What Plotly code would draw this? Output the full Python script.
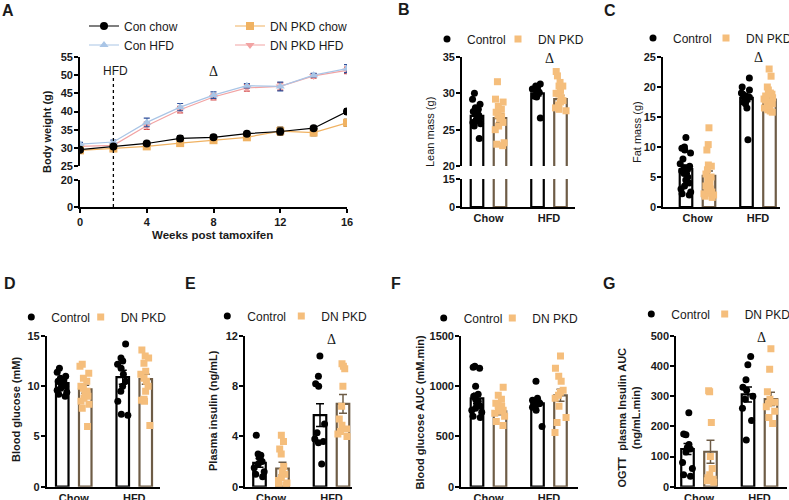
import plotly.graph_objects as go

W, H = 789, 500


def fx(px):
    return px / W


def fy(py):
    return 1 - py / H


# ---------------- data ----------------
# Panel A: body weight over time
weeks = [0, 2, 4, 6, 8, 10, 12, 14, 16]
hfd_start_week = 2
con_chow = [29.5, 30.4, 31.2, 32.6, 32.9, 33.9, 34.5, 35.4, 40.0]
con_chow_sem = [0.4, 0.4, 0.5, 0.8, 0.6, 0.6, 0.9, 0.5, 0.8]
dn_chow = [29.3, 29.8, 30.4, 31.3, 32.1, 32.9, 34.6, 34.2, 36.9]
dn_chow_sem = [0.5, 0.5, 0.6, 0.9, 0.6, 0.8, 1.2, 0.9, 1.0]
con_hfd = [31.0, 31.6, 37.0, 41.2, 44.5, 47.1, 46.9, 50.0, 51.8]
con_hfd_sem = [0.5, 0.5, 1.2, 1.0, 0.9, 0.6, 1.2, 0.5, 1.1]
dn_hfd = [30.4, 30.7, 36.1, 40.5, 44.0, 46.5, 46.9, 49.8, 51.3]
dn_hfd_sem = [0.4, 0.5, 1.0, 0.9, 0.8, 0.9, 1.0, 0.6, 0.9]

groups = ["Chow", "HFD"]

# Panel B: lean mass (g)
lean_mean_ctrl = [26.9, 30.0]
lean_sem_ctrl = [0.4, 0.35]
lean_mean_dn = [26.6, 29.2]
lean_sem_dn = [0.6, 0.5]
lean_ctrl_chow = [30.0, 29.2, 28.5, 28.0, 27.8, 27.5, 27.2, 27.0, 26.8, 26.5, 26.2, 26.0, 25.8, 25.5, 23.8]
lean_dn_chow = [31.6, 29.2, 28.8, 28.2, 27.8, 27.4, 27.0, 26.8, 26.5, 26.0, 25.5, 25.0, 23.2, 22.8, 23.0]
lean_ctrl_hfd = [31.3, 31.0, 30.8, 30.6, 30.5, 30.3, 30.1, 30.0, 29.8, 29.6, 29.5, 26.6]
lean_dn_hfd = [33.0, 32.4, 31.5, 31.0, 30.4, 29.9, 29.4, 28.8, 28.4, 27.8, 27.6, 28.0, 29.0, 30.0, 31.0]

# Panel C: fat mass (g)
fat_mean_ctrl = [6.3, 18.2]
fat_sem_ctrl = [0.7, 0.6]
fat_mean_dn = [5.2, 17.9]
fat_sem_dn = [0.8, 0.5]
fat_ctrl_chow = [11.6, 10.0, 9.8, 9.5, 9.0, 8.0, 7.2, 6.8, 6.5, 6.2, 6.0, 5.6, 5.0, 4.5, 4.0, 3.5, 3.0, 2.5, 2.2, 2.0]
fat_dn_chow = [13.2, 10.4, 9.5, 7.0, 6.8, 6.2, 5.5, 5.0, 4.5, 4.0, 3.5, 3.2, 3.0, 2.8, 2.5, 2.3, 2.2, 2.0, 1.8, 1.6]
fat_ctrl_hfd = [21.5, 20.0, 19.5, 19.0, 18.8, 18.5, 18.3, 18.0, 17.8, 17.5, 17.2, 16.5, 11.2]
fat_dn_hfd = [23.0, 21.8, 20.0, 19.5, 19.0, 18.8, 18.5, 18.2, 18.0, 17.8, 17.5, 17.2, 17.0, 16.8, 16.5, 16.2, 16.0, 15.8]

# Panel D: blood glucose (mM)
glu_mean_ctrl = [10.3, 10.9]
glu_sem_ctrl = [0.2, 0.7]
glu_mean_dn = [9.7, 10.7]
glu_sem_dn = [0.4, 0.5]
glu_ctrl_chow = [11.8, 11.4, 11.0, 10.8, 10.6, 10.5, 10.4, 10.3, 10.2, 10.0, 9.8, 9.6, 9.4, 9.2, 9.0]
glu_dn_chow = [12.2, 12.0, 11.3, 10.8, 10.5, 10.0, 9.8, 9.5, 9.2, 9.0, 8.8, 8.5, 8.2, 7.8, 6.0]
glu_ctrl_hfd = [14.2, 12.8, 12.5, 12.2, 11.8, 11.2, 10.5, 10.0, 9.5, 8.5, 7.2, 7.1]
glu_dn_hfd = [13.6, 13.0, 12.8, 12.3, 11.5, 11.2, 10.8, 10.5, 10.0, 9.5, 8.7, 8.6, 8.5, 6.1]

# Panel E: plasma insulin (ng/mL)
ins_mean_ctrl = [1.9, 5.7]
ins_sem_ctrl = [0.35, 0.9]
ins_mean_dn = [1.45, 6.6]
ins_sem_dn = [0.5, 0.75]
ins_ctrl_chow = [4.1, 2.6, 2.5, 2.3, 2.0, 1.8, 1.5, 1.2, 1.0, 0.8]
ins_dn_chow = [4.1, 3.6, 3.0, 2.6, 1.6, 1.2, 1.0, 0.7, 0.5, 0.3, 0.2, 0.1]
ins_ctrl_hfd = [10.4, 8.8, 8.2, 8.0, 5.0, 4.3, 3.8, 3.6, 3.5, 1.8]
ins_dn_hfd = [9.8, 9.6, 9.4, 8.0, 6.4, 5.4, 4.9, 4.6, 4.4, 4.2, 4.0]

# Panel F: blood glucose AUC (mM.min)
gauc_mean_ctrl = [880, 830]
gauc_sem_ctrl = [50, 30]
gauc_mean_dn = [750, 910]
gauc_sem_dn = [35, 60]
gauc_ctrl_chow = [1200, 1190, 1180, 1000, 920, 900, 870, 850, 820, 800, 780, 760, 740, 700, 690]
gauc_dn_chow = [990, 910, 870, 830, 810, 800, 780, 760, 750, 730, 700, 650, 610]
gauc_ctrl_hfd = [1050, 880, 860, 850, 840, 830, 820, 810, 790, 760, 600]
gauc_dn_hfd = [1300, 1180, 1100, 1050, 960, 940, 910, 880, 800, 690, 640, 540]

# Panel G: OGTT plasma insulin AUC (ng/mL.min)
iauc_mean_ctrl = [125, 306]
iauc_sem_ctrl = [18, 25]
iauc_mean_dn = [116, 291]
iauc_sem_dn = [38, 22]
iauc_ctrl_chow = [245, 175, 172, 140, 130, 125, 115, 80, 60, 40, 35]
iauc_dn_chow = [318, 315, 213, 100, 60, 40, 30, 25, 20, 15]
iauc_ctrl_hfd = [432, 405, 355, 330, 320, 300, 290, 260, 220, 155]
iauc_dn_hfd = [458, 390, 315, 290, 280, 275, 265, 250, 230, 210]

# ---------------- style ----------------
FONT = "Liberation Sans, Arial, sans-serif"
INK = "#1a1a1a"
BROWN = "#6E5C46"
ORANGE = "#F5BE7C"
SPACING = 60.5  # px between category centres

fig = go.Figure()
layout = dict(
    width=W, height=H, margin=dict(l=0, r=0, t=0, b=0, autoexpand=False),
    paper_bgcolor="white", plot_bgcolor="rgba(0,0,0,0)",
    font=dict(family=FONT, color=INK),
    barmode="group", bargap=0.24, bargroupgap=0.455,
    boxmode="group", boxgap=0.24, boxgroupgap=0.455,
    showlegend=True, hovermode=False,
)


def yax(top, bot, rng, tickvals, anchor):
    return dict(domain=[fy(bot), fy(top)], range=rng, tickvals=tickvals, anchor=anchor,
                showline=True, linecolor="black", linewidth=1.6, ticks="outside", ticklen=4,
                tickwidth=1.6, tickcolor="black", showgrid=False, zeroline=False,
                ticklabelstandoff=-1,
                tickfont=dict(size=11, weight="bold", color=INK), fixedrange=True)


def xcat(px0, px1, chow_px, anchor):
    return dict(domain=[fx(px0), fx(px1)],
                range=[(px0 - chow_px) / SPACING, (px1 - chow_px) / SPACING],
                type="category", categoryorder="array", categoryarray=groups, anchor=anchor,
                showline=True, linecolor="black", linewidth=1.6, ticks="", showgrid=False,
                zeroline=False, tickfont=dict(size=11, weight="bold", color=INK), fixedrange=True)


def leg(px_marker, py_y):
    # legend symbol sits 20 px right of the legend's left edge
    return dict(orientation="h", x=fx(px_marker - 22), y=fy(py_y), xanchor="left", yanchor="middle",
                font=dict(size=12, color=INK, family=FONT),
                bgcolor="rgba(0,0,0,0)", borderwidth=0, itemclick=False, itemdoubleclick=False)


# ---------------- panel A ----------------
layout["xaxis"] = dict(domain=[fx(80), fx(347)], range=[0, 16], tickvals=[0, 4, 8, 12, 16], anchor="y2",
                       showline=True, linecolor="black", linewidth=1.6, ticks="outside", ticklen=4,
                       tickwidth=1.6, tickcolor="black", showgrid=False, zeroline=False,
                       tickfont=dict(size=11, weight="bold", color=INK), fixedrange=True)
layout["yaxis"] = yax(57, 166, [25, 55], [25, 30, 35, 40, 45, 50, 55], "x")
layout["yaxis2"] = yax(180, 207, [0, 20], [0, 20], "x")


def a_trace(y, sem, name, color, ecolor, symbol, legend):
    return go.Scatter(x=weeks, y=y, name=name, mode="lines+markers",
                      line=dict(color=color, width=1.2),
                      marker=dict(color=color, symbol=symbol, size=8),
                      error_y=dict(type="data", array=sem, color=ecolor, thickness=1.2, width=3),
                      xaxis="x", yaxis="y", legend=legend)


# keeps the lower (0-20) segment of the broken axis alive
fig.add_trace(go.Scatter(x=weeks, y=con_chow, mode="lines", line=dict(color="rgba(0,0,0,0)"),
                         xaxis="x", yaxis="y2", showlegend=False))
fig.add_trace(a_trace(dn_hfd, dn_hfd_sem, "DN PKD HFD", "#F2A3A3", "#D24A4A", "triangle-down", "legend4"))
fig.add_trace(a_trace(con_hfd, con_hfd_sem, "Con HFD", "#A9C5E6", "#2F4F9A", "triangle-up", "legend2"))
fig.add_trace(a_trace(dn_chow, dn_chow_sem, "DN PKD chow", "#F0B262", "#9A7A50", "square", "legend3"))
fig.add_trace(a_trace(con_chow, con_chow_sem, "Con chow", "black", "black", "circle", "legend"))
layout["legend"] = leg(106, 26)
layout["legend2"] = leg(106, 45)
layout["legend3"] = leg(252, 26)
layout["legend4"] = leg(252, 45)

# ---------------- bar panels ----------------
panels = [
    dict(x="x2", ys=["y3", "y4"], leg=(449, 520, 39),
         mc=lean_mean_ctrl, sc=lean_sem_ctrl, md=lean_mean_dn, sd=lean_sem_dn,
         pc=(lean_ctrl_chow, lean_ctrl_hfd), pd=(lean_dn_chow, lean_dn_hfd)),
    dict(x="x3", ys=["y5"], leg=(655, 728, 38),
         mc=fat_mean_ctrl, sc=fat_sem_ctrl, md=fat_mean_dn, sd=fat_sem_dn,
         pc=(fat_ctrl_chow, fat_ctrl_hfd), pd=(fat_dn_chow, fat_dn_hfd)),
    dict(x="x4", ys=["y6"], leg=(33.3, 102.7, 317),
         mc=glu_mean_ctrl, sc=glu_sem_ctrl, md=glu_mean_dn, sd=glu_sem_dn,
         pc=(glu_ctrl_chow, glu_ctrl_hfd), pd=(glu_dn_chow, glu_dn_hfd)),
    dict(x="x5", ys=["y7"], leg=(229.3, 303.3, 316),
         mc=ins_mean_ctrl, sc=ins_sem_ctrl, md=ins_mean_dn, sd=ins_sem_dn,
         pc=(ins_ctrl_chow, ins_ctrl_hfd), pd=(ins_dn_chow, ins_dn_hfd)),
    dict(x="x6", ys=["y8"], leg=(445.7, 514.3, 318),
         mc=gauc_mean_ctrl, sc=gauc_sem_ctrl, md=gauc_mean_dn, sd=gauc_sem_dn,
         pc=(gauc_ctrl_chow, gauc_ctrl_hfd), pd=(gauc_dn_chow, gauc_dn_hfd)),
    dict(x="x7", ys=["y9"], leg=(653.3, 726.7, 314),
         mc=iauc_mean_ctrl, sc=iauc_sem_ctrl, md=iauc_mean_dn, sd=iauc_sem_dn,
         pc=(iauc_ctrl_chow, iauc_ctrl_hfd), pd=(iauc_dn_chow, iauc_dn_hfd)),
]

layout["xaxis2"] = xcat(462, 575, 488.5, "y4")
layout["yaxis3"] = yax(57, 166, [20, 35], [20, 25, 30, 35], "x2")
layout["yaxis4"] = yax(179, 207, [0, 15], [0, 15], "x2")
layout["xaxis3"] = xcat(663, 780, 697.5, "y5")
layout["yaxis5"] = yax(57, 207, [0, 25], [0, 5, 10, 15, 20, 25], "x3")
layout["xaxis4"] = xcat(46.7, 160, 73.75, "y6")
layout["yaxis6"] = yax(336, 486.7, [0, 15], [0, 5, 10, 15], "x4")
layout["xaxis5"] = xcat(245, 352, 271, "y7")
layout["yaxis7"] = yax(336, 486.7, [0, 12], [0, 4, 8, 12], "x5")
layout["xaxis6"] = xcat(461, 578, 488.5, "y8")
layout["yaxis8"] = yax(336, 486.7, [0, 1500], [0, 500, 1000, 1500], "x6")
layout["xaxis7"] = xcat(676, 787, 699, "y9")
layout["yaxis9"] = yax(336, 486.7, [0, 500], [0, 100, 200, 300, 400, 500], "x7")

leg_n = 5
for p in panels:
    upper = p["ys"][0]
    for ya in p["ys"]:
        show_err = ya == upper
        fig.add_trace(go.Bar(x=groups, y=p["mc"], xaxis=p["x"], yaxis=ya, showlegend=False,
                             marker=dict(color="white", line=dict(color="black", width=2.2)),
                             error_y=dict(type="data", array=p["sc"], color="black", thickness=1.5,
                                          width=4, visible=show_err)))
        fig.add_trace(go.Bar(x=groups, y=p["md"], xaxis=p["x"], yaxis=ya, showlegend=False,
                             marker=dict(color="white", line=dict(color=BROWN, width=2.2)),
                             error_y=dict(type="data", array=p["sd"], color=BROWN, thickness=1.5,
                                          width=4, visible=show_err)))
    for pts, sym, col, og in ((p["pc"], "circle", "black", "ctrl"), (p["pd"], "square", ORANGE, "dn")):
        xs = [groups[0]] * len(pts[0]) + [groups[1]] * len(pts[1])
        fig.add_trace(go.Box(x=xs, y=list(pts[0]) + list(pts[1]), xaxis=p["x"], yaxis=upper,
                             alignmentgroup=p["x"], offsetgroup=og,
                             boxpoints="all", jitter=1.0, pointpos=0, showlegend=False,
                             fillcolor="rgba(0,0,0,0)", line=dict(width=0, color="rgba(0,0,0,0)"),
                             whiskerwidth=0, marker=dict(symbol=sym, size=7, color=col)))
    mx_c, mx_d, my = p["leg"]
    lc, ld = f"legend{leg_n}", f"legend{leg_n + 1}"
    leg_n += 2
    layout[lc] = leg(mx_c, my)
    layout[ld] = leg(mx_d, my)
    fig.add_trace(go.Scatter(x=[None], y=[None], mode="markers", name="Control", xaxis=p["x"], yaxis=upper,
                             marker=dict(symbol="circle", size=7, color="black"), legend=lc))
    fig.add_trace(go.Scatter(x=[None], y=[None], mode="markers", name="DN PKD", xaxis=p["x"], yaxis=upper,
                             marker=dict(symbol="square", size=7, color=ORANGE), legend=ld))

# ---------------- annotations ----------------
ann = []


def text(px, py, s, size=11, bold=False, angle=0, family=FONT, xanchor="center"):
    ann.append(dict(x=fx(px), y=fy(py), xref="paper", yref="paper", text=s, showarrow=False,
                    textangle=angle, xanchor=xanchor, yanchor="middle",
                    font=dict(size=size, family=family, color=INK, weight="bold" if bold else "normal")))


for letter, px, py in (("A", 8, 10.5), ("B", 404, 9.5), ("C", 609.5, 10), ("D", 9.5, 283),
                       ("E", 190, 283), ("F", 396, 283), ("G", 609, 283)):
    text(px, py, letter, size=16, bold=True)

text(47, 132, "Body weight (g)", bold=True, angle=-90)
text(430, 132, "Lean mass (g)", angle=-90)
text(637, 132, "Fat mass (g)", angle=-90)
text(16, 410, "Blood glucose (mM)", bold=True, angle=-90)
text(213, 410, "Plasma insulin (ng/mL)", bold=True, angle=-90)
text(419.5, 412, "Blood glucose AUC (mM.min)", bold=True, angle=-90)
text(628.5, 418, "OGTT  plasma Insulin AUC<br>(ng/mL.min)", bold=True, angle=-90)
text(213, 235, "Weeks post tamoxifen", bold=True, size=11.5)

for xa, xv, py in (("x", 8, 71), ("x2", "HFD", 58.5), ("x3", "HFD", 57.5), ("x5", "HFD", 339.5), ("x7", "HFD", 337)):
    ann.append(dict(x=xv, y=fy(py), xref=xa, yref="paper", text="Δ", showarrow=False,
                    yanchor="middle", font=dict(size=14, family="Liberation Serif, Times New Roman, serif", color=INK),
                    xshift=2 if xa == "x7" else 0))

ann.append(dict(x=hfd_start_week, y=fy(70.5), xref="x", yref="paper", text="HFD", showarrow=False,
                yanchor="middle", xshift=2.5, font=dict(size=12, family=FONT, color=INK)))

layout["annotations"] = ann
layout["shapes"] = [dict(type="line", xref="x", yref="paper", x0=hfd_start_week, x1=hfd_start_week,
                         y0=fy(207), y1=fy(77), line=dict(color="black", width=1.3, dash="dot"))]

fig.update_layout(**layout)
fig.write_html("out.html", config={"displayModeBar": False},
               post_script="document.body.style.margin='0';document.body.style.overflow='hidden';")
